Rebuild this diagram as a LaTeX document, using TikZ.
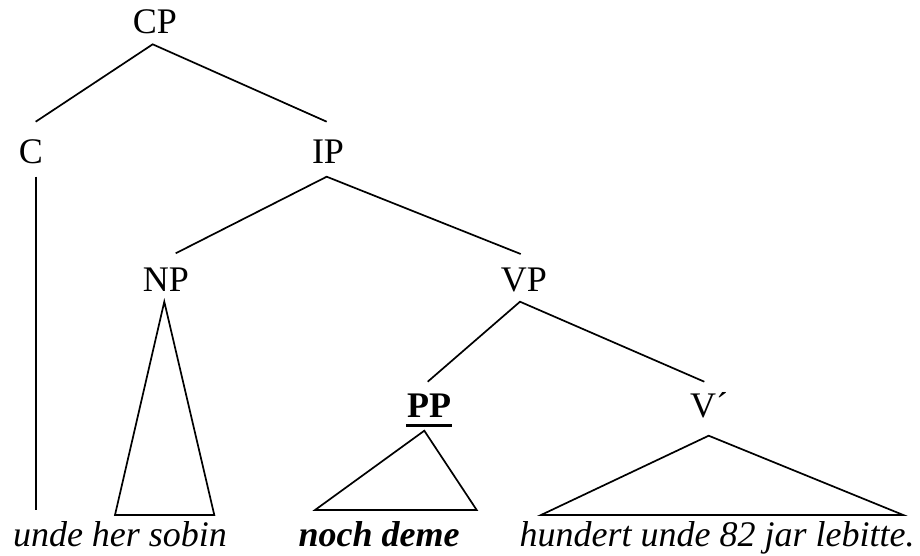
\documentclass[tikz,border=0pt]{standalone}
\usepackage{fontspec}
\setmainfont{Liberation Serif}
\begin{document}
\begin{tikzpicture}[x=1pt,y=-1pt,
  lab/.style={inner sep=0pt,anchor=base,font=\fontsize{36}{40}\selectfont},
  leaf/.style={inner sep=0pt,anchor=base,font=\fontsize{36}{40}\selectfont\itshape},
  edge/.style={line width=1.7pt,line join=miter}]
\useasboundingbox (0,0) rectangle (920,555);
% labels
\node[lab] (cp) at (155,33) {CP};
\node[lab] (c) at (31,163) {C};
\node[lab] (ip) at (328,163) {IP};
\node[lab] (np) at (166,291.5) {NP};
\node[lab] (vp) at (524,291.5) {VP};
\node[lab,font=\fontsize{36}{40}\selectfont\bfseries] (pp) at (429,417) {PP};
\node[lab] (vb) at (709,417) {V´};
% leaves
\node[leaf] (l1) at (120,546) {unde her sobin};
\node[leaf,font=\fontsize{36}{40}\selectfont\bfseries\itshape] (l2) at (379,546) {noch deme};
\node[leaf] (l3) at (717,546) {hundert unde 82 jar lebitte.};
% coordinates
\coordinate (cpA) at (152.7,44.3);
\coordinate (cL) at (35.7,121.7);
\coordinate (ipT) at (326.7,121.7);
\coordinate (cB) at (36,176.7);
\coordinate (cE) at (36,510);
\coordinate (ipA) at (326.7,176.7);
\coordinate (npT) at (175.7,253.3);
\coordinate (vpT) at (520.7,254);
\coordinate (npA) at (164.3,301.7);
\coordinate (npL) at (115,515);
\coordinate (npR) at (214.3,515);
\coordinate (vpA) at (520,301.7);
\coordinate (ppT) at (427.7,381.7);
\coordinate (vbT) at (704.3,381.7);
\coordinate (ppA) at (424.3,430.7);
\coordinate (ppL) at (315,510);
\coordinate (ppR) at (476.7,510);
\coordinate (vbA) at (708.7,435.7);
\coordinate (vbL) at (541,515);
\coordinate (vbR) at (903.3,515);
\coordinate (ulL) at (406,425);
\coordinate (ulR) at (452,425);
% edges
\draw[edge] (cL) -- (cpA) -- (ipT);
\draw[edge] (cB) -- (cE);
\draw[edge] (npT) -- (ipA) -- (vpT);
\draw[edge] (ppT) -- (vpA) -- (vbT);
\draw[edge] (npA) -- (npL) -- (npR) -- cycle;
\draw[edge] (ppA) -- (ppL) -- (ppR) -- cycle;
\draw[edge] (vbA) -- (vbL) -- (vbR) -- cycle;
\draw[line width=3pt] (ulL) -- (ulR);
\end{tikzpicture}
\end{document}
